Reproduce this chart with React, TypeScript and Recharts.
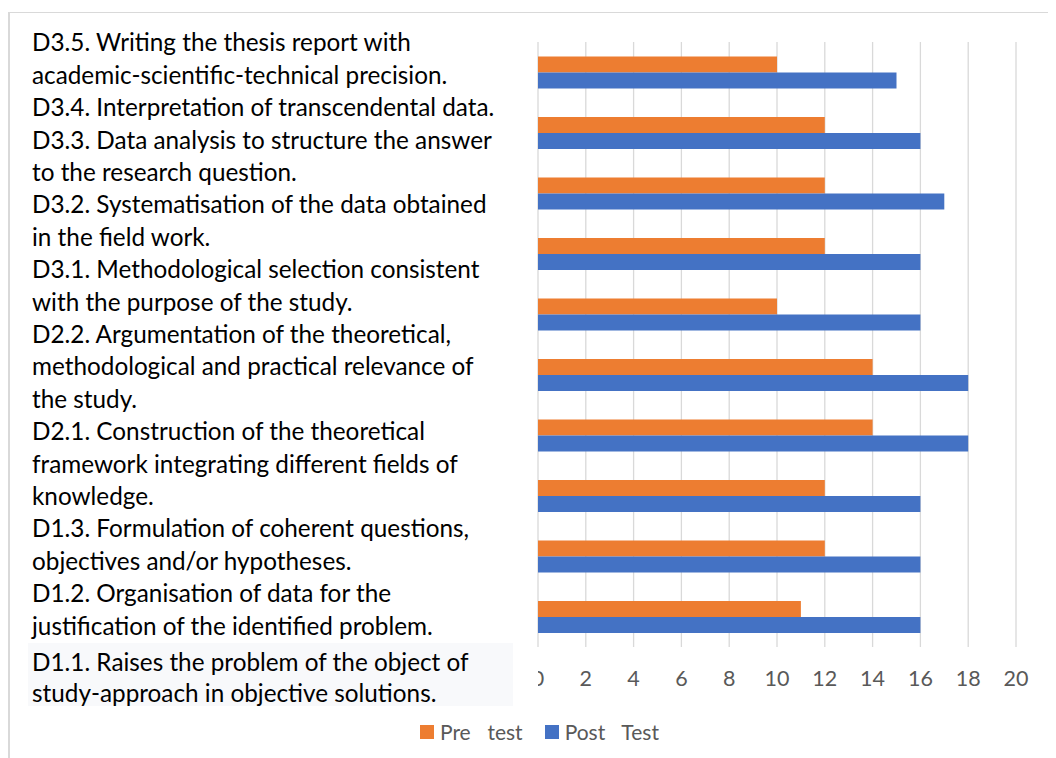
import React from 'react';
import { BarChart, Bar, XAxis, YAxis, CartesianGrid, Legend } from 'recharts';

const categories = [
  'D3.5. Writing the thesis report with\nacademic-scientific-technical precision.',
  'D3.4. Interpretation of transcendental data.',
  'D3.3. Data analysis to structure the answer\nto the research question.',
  'D3.2. Systematisation of the data obtained\nin the field work.',
  'D3.1. Methodological selection consistent\nwith the purpose of the study.',
  'D2.2. Argumentation of the theoretical,\nmethodological and practical relevance of\nthe study.',
  'D2.1. Construction of the theoretical\nframework integrating different fields of\nknowledge.',
  'D1.3. Formulation of coherent questions,\nobjectives and/or hypotheses.',
  'D1.2. Organisation of data for the\njustification of the identified problem.',
  'D1.1. Raises the problem of the object of\nstudy-approach in objective solutions.',
];
const preTest = [10, 12, 12, 12, 10, 14, 14, 12, 12, 11];
const postTest = [15, 16, 17, 16, 16, 18, 18, 16, 16, 16];
const xTicks = [0, 2, 4, 6, 8, 10, 12, 14, 16, 18, 20];
const seriesKeys = ['pre', 'post'];
const seriesNames = ['Pre  test', 'Post  Test'];
const seriesColors = ['#ED7D31', '#4472C4'];

const data = categories.map((c, i) => ({ category: c, pre: preTest[i], post: postTest[i] }));

const FONT = "Lato, 'Liberation Sans', sans-serif";
const LABEL_SIZE = 24.3;

const LegendContent = (props: any) => {
  const payload = [...(props.payload || [])].sort(
    (a: any, b: any) => seriesKeys.indexOf(a.dataKey) - seriesKeys.indexOf(b.dataKey)
  );
  return (
    <div style={{ display: 'flex', alignItems: 'center', fontFamily: FONT, fontSize: 21, color: '#595959', whiteSpace: 'pre', wordSpacing: 3 }}>
      {payload.map((p: any, i: number) => (
        <div key={i} style={{ display: 'flex', alignItems: 'center', marginRight: i === 0 ? 22 : 0 }}>
          <span style={{ display: 'inline-block', width: 14, height: 14, background: p.color, marginRight: 6 }} />
          <span>{p.value}</span>
        </div>
      ))}
    </div>
  );
};

export default function App() {
  const mainLabels = categories.slice(0, categories.length - 1);
  const lastLabel = categories[categories.length - 1];
  return (
    <div style={{ position: 'relative', width: 1048, height: 750, fontFamily: FONT, overflow: 'hidden' }}>
      <div style={{ position: 'absolute', left: 0, top: 4, width: 1100, height: 800, borderTop: '1px solid #d9d9d9', borderLeft: '2px solid #d9d9d9', boxSizing: 'border-box' }} />
      <BarChart
        width={1048}
        height={750}
        data={data}
        layout="vertical"
        margin={{ top: 34, right: 40, bottom: 71, left: 530 }}
        barCategoryGap="24%"
        barGap={0}
      >
        <CartesianGrid horizontal={false} stroke="#d9d9d9" strokeWidth={1.3} />
        <XAxis
          type="number"
          domain={[0, 20]}
          ticks={xTicks}
          axisLine={false}
          tickLine={false}
          tickMargin={18}
          height={40}
          tick={{ fill: '#595959', fontSize: 21.5, fontFamily: FONT }}
          interval={0}
        />
        <YAxis type="category" dataKey="category" hide />
        <Bar dataKey="pre" name={seriesNames[0]} fill={seriesColors[0]} isAnimationActive={false} />
        <Bar dataKey="post" name={seriesNames[1]} fill={seriesColors[1]} isAnimationActive={false} />
        <Legend
          layout="horizontal"
          verticalAlign="middle"
          align="center"
          content={<LegendContent />}
          wrapperStyle={{ top: 711, left: 412, width: 'auto' }}
        />
      </BarChart>
      <div style={{ position: 'absolute', left: 24, top: 18.3, fontSize: LABEL_SIZE, lineHeight: '32.4px', color: '#000', whiteSpace: 'pre' }}>
        {mainLabels.map((l, i) => (
          <div key={i}>{l.split('\n').map((s, j) => <div key={j}>{s}</div>)}</div>
        ))}
      </div>
      <div style={{ position: 'absolute', left: 20, top: 635, width: 485, height: 63, paddingTop: 3, paddingLeft: 4, boxSizing: 'border-box', background: '#f8f9fb', fontSize: LABEL_SIZE, lineHeight: '31px', color: '#000', whiteSpace: 'pre' }}>
        {lastLabel.split('\n').map((s, j) => <div key={j}>{s}</div>)}
      </div>
      <div style={{ position: 'absolute', left: 505, top: 658, width: 24.6, height: 34, background: '#fff' }} />
    </div>
  );
}
